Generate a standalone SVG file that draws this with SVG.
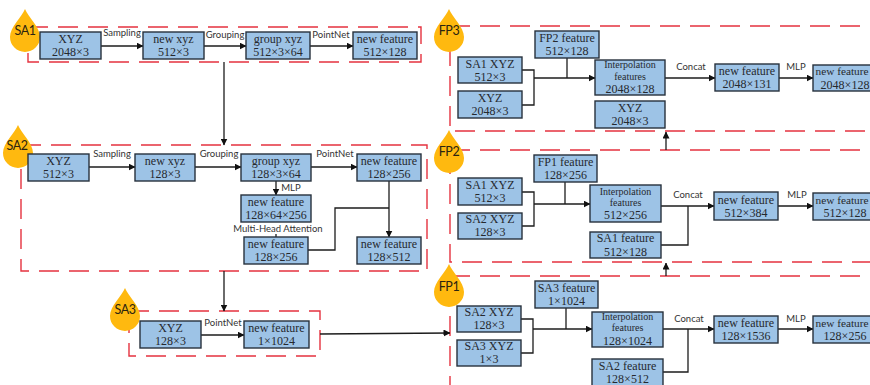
<svg xmlns="http://www.w3.org/2000/svg" width="870" height="385" viewBox="0 0 870 385">
<style>
.f{fill:none;stroke:#e5323f;stroke-width:1.4;stroke-dasharray:20 10}
.b{fill:#9dc3e6;stroke:#27313c;stroke-width:1.4}
.t{font-family:"Liberation Serif",serif;font-size:12px;fill:#26292e;text-anchor:middle}
.s{font-size:10px}
.e{font-size:11.3px}
.l{font-family:Lato,"Liberation Sans",sans-serif;font-size:9.5px;fill:#333;text-anchor:middle}
.d{font-family:Lato,"Liberation Sans",sans-serif;font-size:12.5px;letter-spacing:-.4px;fill:#2b2410;text-anchor:middle}
.c{fill:none;stroke:#1c1c1c;stroke-width:1.3}
.a{marker-end:url(#ah)}
.drop{fill:#ffb90f}
</style>
<defs>
<marker id="ah" markerUnits="userSpaceOnUse" markerWidth="7" markerHeight="7" refX="6.5" refY="3.5" orient="auto"><path d="M0 0L7 3.5L0 7Z" fill="#111"/></marker>
<path id="dp" d="M0-28C3-20 15-10 15 0A15 15 0 1 1-15 0C-15-10-3-20 0-28Z"/>
</defs>

<g id="frames">
<rect class="f" x="28" y="27" width="393" height="35"/>
<rect class="f" x="21" y="145" width="406" height="126"/>
<rect class="f" x="129" y="311" width="191" height="45"/>
<rect class="f" x="450" y="26" width="440" height="105"/>
<rect class="f" x="450" y="150" width="440" height="112"/>
<rect class="f" x="450" y="276" width="440" height="130"/>
</g>

<g id="connectors">
<path class="c a" d="M101 46H143"/><path class="c a" d="M204 46H246"/><path class="c a" d="M310 46H353"/>
<path class="c a" d="M224 62V145"/>
<path class="c a" d="M89 167H135"/><path class="c a" d="M195 167H241"/><path class="c a" d="M311 167H357"/>
<path class="c a" d="M276 181V195"/><path class="c" d="M276 234V237"/>
<path class="c a" d="M389 181V237"/><path class="c" d="M308 250H335V208H389"/>
<path class="c a" d="M224 271V311"/>
<path class="c a" d="M201 335H244"/>
<path class="c a" d="M320 334L450 333"/>
<path class="c a" d="M666 150V132"/><path class="c a" d="M666 276V263"/>
<path class="c" d="M522 70H534V105H522"/><path class="c a" d="M534 78H595"/><path class="c" d="M567 58V78"/>
<path class="c a" d="M665 78H715"/><path class="c a" d="M779 78H813"/>
<path class="c" d="M522 192H534V226H522"/><path class="c a" d="M534 204H590"/><path class="c" d="M565 182V204"/>
<path class="c a" d="M661 206H714"/><path class="c" d="M661 245H688V206"/><path class="c a" d="M778 206H813"/>
<path class="c" d="M521 319H533V353H521"/><path class="c a" d="M533 329H592"/><path class="c" d="M566 308V329"/>
<path class="c a" d="M663 329H714"/><path class="c" d="M663 372H688V329"/><path class="c a" d="M778 329H813"/>
</g>

<g id="labels">
<text class="l" x="122" y="36">Sampling</text><text class="l" x="225" y="38">Grouping</text><text class="l" x="331" y="38">PointNet</text>
<text class="l" x="112" y="157">Sampling</text><text class="l" x="219" y="157">Grouping</text><text class="l" x="335" y="157">PointNet</text>
<text class="l" x="291" y="191">MLP</text><text class="l" x="278" y="232">Multi-Head Attention</text>
<text class="l" x="223" y="326">PointNet</text>
<text class="l" x="691" y="70">Concat</text><text class="l" x="796" y="70">MLP</text>
<text class="l" x="688" y="198">Concat</text><text class="l" x="797" y="198">MLP</text>
<text class="l" x="689" y="322">Concat</text><text class="l" x="796" y="322">MLP</text>
</g>

<g id="SA1"><use class="drop" href="#dp" x="25" y="37"/><text class="d" x="25" y="35">SA1</text></g>
<g id="SA2"><use class="drop" href="#dp" x="18" y="153"/><text class="d" x="17" y="150">SA2</text></g>
<g id="SA3"><use class="drop" href="#dp" x="125" y="316"/><text class="d" x="125" y="314">SA3</text></g>
<g id="FP3"><use class="drop" href="#dp" x="449" y="37"/><text class="d" x="449" y="35">FP3</text></g>
<g id="FP2"><use class="drop" href="#dp" x="449" y="158"/><text class="d" x="449" y="156">FP2</text></g>
<g id="FP1"><use class="drop" href="#dp" x="449" y="292"/><text class="d" x="449" y="291">FP1</text></g>

<g id="sa1-xyz"><rect class="b" x="40" y="32" width="61" height="27"/><text class="t" x="70.5" y="43">XYZ</text><text class="t" x="70.5" y="56">2048×3</text></g>
<g id="sa1-newxyz"><rect class="b" x="143" y="32" width="61" height="27"/><text class="t" x="173.5" y="43">new xyz</text><text class="t" x="173.5" y="56">512×3</text></g>
<g id="sa1-group"><rect class="b" x="246" y="32" width="64" height="27"/><text class="t" x="278" y="43">group xyz</text><text class="t" x="278" y="56">512×3×64</text></g>
<g id="sa1-feature"><rect class="b" x="353" y="32" width="64" height="27"/><text class="t" x="385" y="43">new feature</text><text class="t" x="385" y="56">512×128</text></g>

<g id="sa2-xyz"><rect class="b" x="28" y="154" width="61" height="27"/><text class="t" x="58.5" y="165">XYZ</text><text class="t" x="58.5" y="178">512×3</text></g>
<g id="sa2-newxyz"><rect class="b" x="135" y="154" width="60" height="27"/><text class="t" x="165" y="165">new xyz</text><text class="t" x="165" y="178">128×3</text></g>
<g id="sa2-group"><rect class="b" x="241" y="154" width="70" height="27"/><text class="t" x="276" y="165">group xyz</text><text class="t" x="276" y="178">128×3×64</text></g>
<g id="sa2-feature"><rect class="b" x="357" y="154" width="64" height="27"/><text class="t" x="389" y="165">new feature</text><text class="t" x="389" y="178">128×256</text></g>
<g id="sa2-mlp"><rect class="b" x="241" y="195" width="70" height="27"/><text class="t" x="276" y="206">new feature</text><text class="t" x="276" y="219">128×64×256</text></g>
<g id="sa2-attn"><rect class="b" x="244" y="237" width="64" height="27"/><text class="t" x="276" y="248">new feature</text><text class="t" x="276" y="261">128×256</text></g>
<g id="sa2-out"><rect class="b" x="357" y="237" width="64" height="27"/><text class="t" x="389" y="248">new feature</text><text class="t" x="389" y="261">128×512</text></g>

<g id="sa3-xyz"><rect class="b" x="140" y="321" width="61" height="27"/><text class="t" x="170.5" y="332">XYZ</text><text class="t" x="170.5" y="345">128×3</text></g>
<g id="sa3-feature"><rect class="b" x="244" y="321" width="65" height="27"/><text class="t" x="276.5" y="332">new feature</text><text class="t" x="276.5" y="345">1×1024</text></g>

<g id="fp3-fp2"><rect class="b" x="535" y="31" width="64" height="27"/><text class="t" x="567" y="42">FP2 feature</text><text class="t" x="567" y="55">512×128</text></g>
<g id="fp3-sa1"><rect class="b" x="458" y="57" width="64" height="26"/><text class="t" x="490" y="68">SA1 XYZ</text><text class="t" x="490" y="81">512×3</text></g>
<g id="fp3-xyz"><rect class="b" x="458" y="91" width="64" height="27"/><text class="t" x="490" y="102">XYZ</text><text class="t" x="490" y="115">2048×3</text></g>
<g id="fp3-interp"><rect class="b" x="595" y="60" width="70" height="35"/><text class="t s" x="630" y="68">Interpolation</text><text class="t s" x="630" y="80">features</text><text class="t" x="630" y="93">2048×128</text></g>
<g id="fp3-xyz2"><rect class="b" x="595" y="101" width="70" height="27"/><text class="t" x="630" y="112">XYZ</text><text class="t" x="630" y="125">2048×3</text></g>
<g id="fp3-new"><rect class="b" x="715" y="64" width="64" height="27"/><text class="t" x="747" y="75">new feature</text><text class="t" x="747" y="88">2048×131</text></g>
<g id="fp3-out"><rect class="b" x="813" y="65" width="70" height="26"/><text class="t e" x="842" y="75">new feature</text><text class="t" x="845" y="89">2048×128</text></g>

<g id="fp2-fp1"><rect class="b" x="534" y="155" width="63" height="27"/><text class="t" x="565.5" y="166">FP1 feature</text><text class="t" x="565.5" y="179">128×256</text></g>
<g id="fp2-sa1"><rect class="b" x="458" y="178" width="64" height="27"/><text class="t" x="490" y="189">SA1 XYZ</text><text class="t" x="490" y="202">512×3</text></g>
<g id="fp2-sa2"><rect class="b" x="458" y="213" width="64" height="26"/><text class="t" x="490" y="223">SA2 XYZ</text><text class="t" x="490" y="236">128×3</text></g>
<g id="fp2-interp"><rect class="b" x="590" y="185" width="71" height="37"/><text class="t s" x="625.5" y="195">Interpolation</text><text class="t s" x="625.5" y="206">features</text><text class="t" x="625.5" y="219">512×256</text></g>
<g id="fp2-feat"><rect class="b" x="590" y="232" width="71" height="26"/><text class="t" x="625.5" y="242">SA1 feature</text><text class="t" x="625.5" y="256">512×128</text></g>
<g id="fp2-new"><rect class="b" x="714" y="192" width="64" height="28"/><text class="t" x="746" y="204">new feature</text><text class="t" x="746" y="217">512×384</text></g>
<g id="fp2-out"><rect class="b" x="813" y="193" width="70" height="27"/><text class="t e" x="842" y="204">new feature</text><text class="t" x="845" y="217">512×128</text></g>

<g id="fp1-sa3"><rect class="b" x="535" y="281" width="63" height="27"/><text class="t" x="566.5" y="292">SA3 feature</text><text class="t" x="566.5" y="305">1×1024</text></g>
<g id="fp1-sa2"><rect class="b" x="457" y="306" width="64" height="26"/><text class="t" x="489" y="316">SA2 XYZ</text><text class="t" x="489" y="329">128×3</text></g>
<g id="fp1-sa3xyz"><rect class="b" x="457" y="340" width="64" height="26"/><text class="t" x="489" y="350">SA3 XYZ</text><text class="t" x="489" y="363">1×3</text></g>
<g id="fp1-interp"><rect class="b" x="592" y="312" width="71" height="35"/><text class="t s" x="627.5" y="320">Interpolation</text><text class="t s" x="627.5" y="331">features</text><text class="t" x="627.5" y="345">128×1024</text></g>
<g id="fp1-feat"><rect class="b" x="592" y="359" width="71" height="30"/><text class="t" x="627.5" y="370">SA2 feature</text><text class="t" x="627.5" y="383">128×512</text></g>
<g id="fp1-new"><rect class="b" x="714" y="316" width="64" height="27"/><text class="t" x="746" y="327">new feature</text><text class="t" x="746" y="340">128×1536</text></g>
<g id="fp1-out"><rect class="b" x="813" y="316" width="70" height="27"/><text class="t e" x="842" y="327">new feature</text><text class="t" x="845" y="340">128×256</text></g>
</svg>
